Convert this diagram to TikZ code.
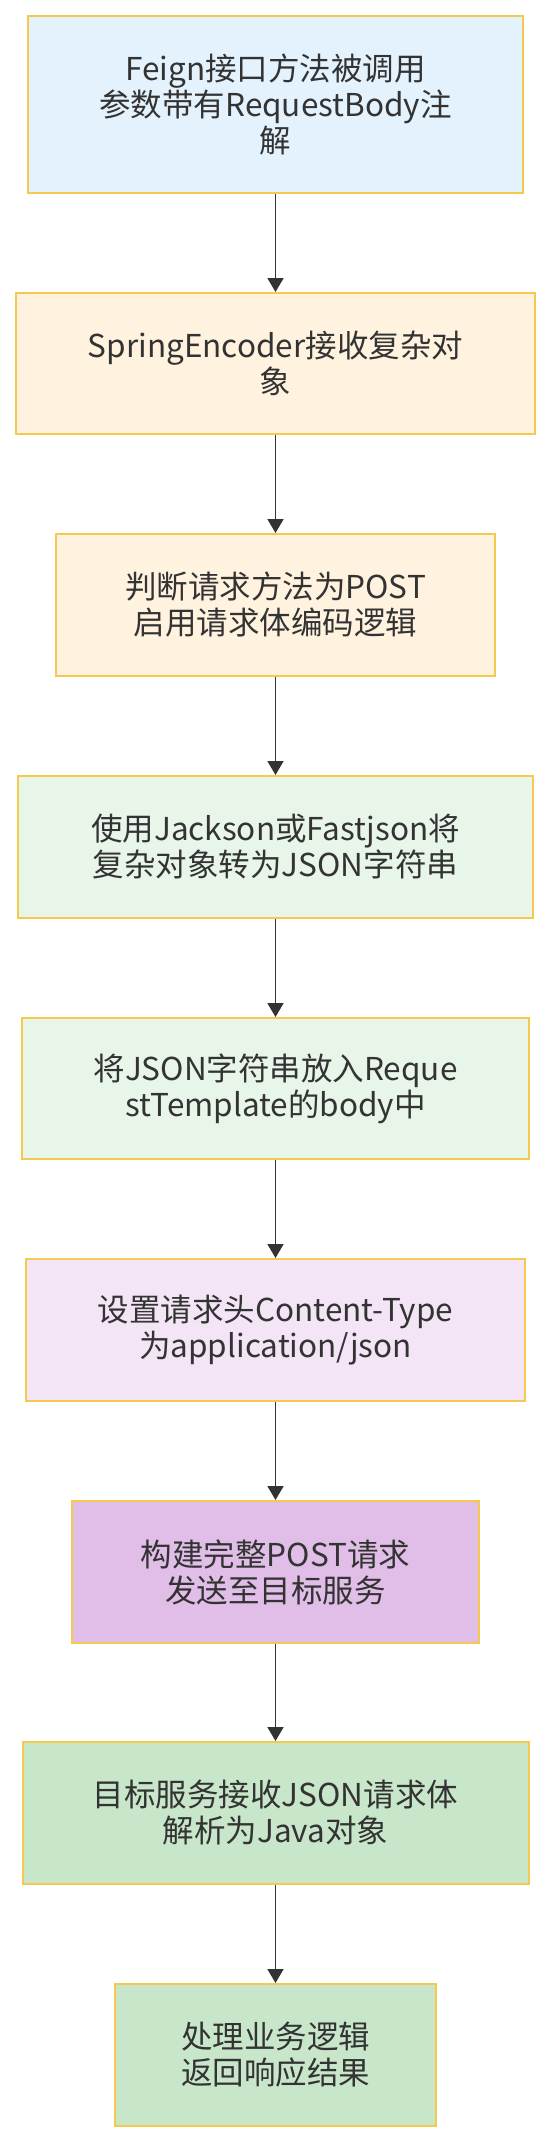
\documentclass[tikz,border=0pt]{standalone}
\usepackage{fontspec}
\setmainfont{Noto Sans CJK SC}
\usetikzlibrary{arrows.meta}
\definecolor{bd}{HTML}{F5C94E}
\definecolor{txt}{HTML}{333333}
\definecolor{ar}{HTML}{333333}
\definecolor{cblue}{HTML}{E3F2FD}
\definecolor{corange}{HTML}{FFF3E0}
\definecolor{cgreenl}{HTML}{E8F5E9}
\definecolor{cpurpl}{HTML}{F3E5F5}
\definecolor{cpurp}{HTML}{E1BEE7}
\definecolor{cgreen}{HTML}{C8E6C9}
\begin{document}
\begin{tikzpicture}[x=1pt,y=1pt,
  box/.style={draw=bd, line width=2pt, rectangle, align=center, text=txt,
    font=\fontsize{31.5}{36}\selectfont, inner sep=0pt},
  arr/.style={draw=ar, line width=1.8pt, -{Triangle[width=16pt,length=14pt]}}]
\useasboundingbox (0,0) rectangle (552,-2142);
\node[box, fill=cblue, minimum width=495pt, minimum height=177pt] (n1) at (275.5,-104.5)
  {Feign接口方法被调用\\参数带有RequestBody注\\解};
\node[box, fill=corange, minimum width=519pt, minimum height=141pt] (n2) at (275.5,-363.5)
  {SpringEncoder接收复杂对\\象};
\node[box, fill=corange, minimum width=439pt, minimum height=142pt] (n3) at (275.5,-605)
  {判断请求方法为POST\\启用请求体编码逻辑};
\node[box, fill=cgreenl, minimum width=515pt, minimum height=142pt] (n4) at (275.5,-847)
  {使用Jackson或Fastjson将\\复杂对象转为JSON字符串};
\node[box, fill=cgreenl, minimum width=507pt, minimum height=141pt] (n5) at (275.5,-1088.5)
  {将JSON字符串放入Reque\\stTemplate的body中};
\node[box, fill=cpurpl, minimum width=499pt, minimum height=142pt] (n6) at (275.5,-1330)
  {设置请求头Content-Type\\为application/json};
\node[box, fill=cpurp, minimum width=407pt, minimum height=142pt] (n7) at (275.5,-1572)
  {构建完整POST请求\\发送至目标服务};
\node[box, fill=cgreen, minimum width=506pt, minimum height=142pt] (n8) at (275.5,-1813)
  {目标服务接收JSON请求体\\解析为Java对象};
\node[box, fill=cgreen, minimum width=321pt, minimum height=142pt] (n9) at (275.5,-2055)
  {处理业务逻辑\\返回响应结果};
\draw[arr] (n1.south) -- (n2.north);
\draw[arr] (n2.south) -- (n3.north);
\draw[arr] (n3.south) -- (n4.north);
\draw[arr] (n4.south) -- (n5.north);
\draw[arr] (n5.south) -- (n6.north);
\draw[arr] (n6.south) -- (n7.north);
\draw[arr] (n7.south) -- (n8.north);
\draw[arr] (n8.south) -- (n9.north);
\end{tikzpicture}
\end{document}
